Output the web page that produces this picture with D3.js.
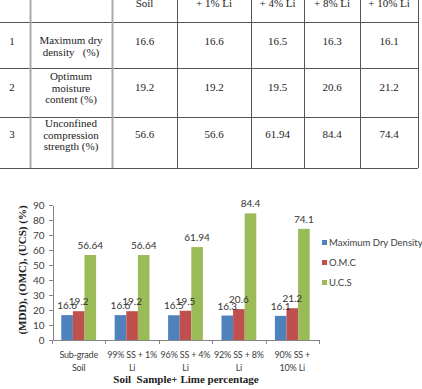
<!DOCTYPE html>
<html>
<head>
<meta charset="utf-8">
<script src="https://cdn.jsdelivr.net/npm/d3@7"></script>
<style>
  body { margin: 0; background: #fff; }
  svg { display: block; }
  .axis path, .axis line { stroke: #868686; shape-rendering: crispEdges; }
  .axis text { font-family: Lato, sans-serif; font-size: 9px; letter-spacing: -0.2px; fill: #404040; }
</style>
</head>
<body>
<div id="chart"></div>
<script>
// table data
var tableHeader = ["Soil", "+ 1% Li", "+ 4% Li", "+ 8% Li", "+ 10% Li"];
var rowNumbers = ["1", "2", "3"];
var rowLabels = [
  ["Maximum dry", "density\u00a0\u00a0\u00a0(%)"],
  ["Optimum", "moisture", "content (%)"],
  ["Unconfined", "compression", "strength (%)"]
];
var tableValues = [
  ["16.6", "16.6", "16.5", "16.3", "16.1"],
  ["19.2", "19.2", "19.5", "20.6", "21.2"],
  ["56.6", "56.6", "61.94", "84.4", "74.4"]
];

// chart data
var categories = [
  ["Sub-grade", "Soil"],
  ["99% SS + 1%", "Li"],
  ["96% SS + 4%", "Li"],
  ["92% SS + 8%", "Li"],
  ["90% SS +", "10% Li"]
];
var seriesNames = ["Maximum Dry Density", "O.M.C", "U.C.S"];
var mdd = [16.6, 16.6, 16.5, 16.3, 16.1];
var omc = [19.2, 19.2, 19.5, 20.6, 21.2];
var ucs = [56.64, 56.64, 61.94, 84.4, 74.1];
var yTicks = [0, 10, 20, 30, 40, 50, 60, 70, 80, 90];
var colors = ["#4F81BD", "#C0504D", "#9BBB59"];

var svgWidth = 422, svgHeight = 389;
var svg = d3.select("#chart").append("svg")
  .attr("width", svgWidth)
  .attr("height", svgHeight);

// ---------------- table ----------------
var colEdges = [30, 112, 177, 251, 304, 360, 418];
var rowEdges = [22, 68, 117, 168];
var serif = "Times New Roman, Liberation Serif, serif";

var table = svg.append("g")
  .attr("font-family", serif)
  .attr("font-size", 11)
  .attr("fill", "#222");

rowEdges.forEach(function(y) {
  table.append("line")
    .attr("x1", 0).attr("x2", 418)
    .attr("y1", y + 0.5).attr("y2", y + 0.5)
    .attr("stroke", "#555");
});
colEdges.forEach(function(x, i) {
  table.append("line")
    .attr("x1", x + 0.5).attr("x2", x + 0.5)
    .attr("y1", 0).attr("y2", 168)
    .attr("stroke", i < 2 ? "#aaa" : "#555")
    .attr("stroke-width", i < 2 ? 2 : 1);
});

// header (cut off at the top, as in the original)
tableHeader.forEach(function(h, i) {
  table.append("text")
    .attr("x", (colEdges[i + 1] + colEdges[i + 2]) / 2)
    .attr("y", 7)
    .attr("text-anchor", "middle")
    .text(h);
});

var valueBase = [45, 91, 138];
var labelBase = [[44, 56], [80, 92, 103], [127, 139, 150]];

rowNumbers.forEach(function(n, r) {
  table.append("text")
    .attr("x", 12).attr("y", valueBase[r])
    .attr("text-anchor", "middle")
    .text(n);

  rowLabels[r].forEach(function(line, k) {
    table.append("text")
      .attr("x", 71).attr("y", labelBase[r][k])
      .attr("text-anchor", "middle")
      .text(line);
  });

  tableValues[r].forEach(function(v, i) {
    table.append("text")
      .attr("x", (colEdges[i + 1] + colEdges[i + 2]) / 2)
      .attr("y", valueBase[r])
      .attr("text-anchor", "middle")
      .text(v);
  });
});

// ---------------- bar chart ----------------
var chart = { left: 52, right: 319, top: 205, bottom: 340 };

var x0 = d3.scaleBand()
  .domain(d3.range(categories.length))
  .range([chart.left, chart.right])
  .paddingInner(0);

var x1 = d3.scaleBand()
  .domain(d3.range(seriesNames.length))
  .range([0, x0.bandwidth()])
  .paddingInner(0)
  .paddingOuter(0.8);

var y = d3.scaleLinear()
  .domain([0, 90])
  .range([chart.bottom, chart.top]);

var series = [mdd, omc, ucs];

// y axis
svg.append("g")
  .attr("class", "axis")
  .attr("transform", "translate(" + (chart.left + 0.5) + ",0)")
  .call(d3.axisLeft(y).tickValues(yTicks).tickSize(4).tickSizeOuter(0).tickPadding(4))
  .selectAll("text").style("font-size", "10px").style("letter-spacing", "0");

// x axis line and tick marks at category boundaries
var xAxis = svg.append("g").attr("class", "axis");
xAxis.append("line")
  .attr("x1", chart.left).attr("x2", chart.right)
  .attr("y1", chart.bottom + 0.5).attr("y2", chart.bottom + 0.5);
d3.range(categories.length + 1).forEach(function(i) {
  var xb = i < categories.length ? x0(i) : x0(i - 1) + x0.bandwidth();
  xAxis.append("line")
    .attr("x1", Math.round(xb) + 0.5).attr("x2", Math.round(xb) + 0.5)
    .attr("y1", chart.bottom).attr("y2", chart.bottom + 4);
});

// category labels
categories.forEach(function(c, i) {
  var t = xAxis.append("text")
    .attr("x", x0(i) + x0.bandwidth() / 2)
    .attr("y", 358)
    .attr("text-anchor", "middle");
  c.forEach(function(line, k) {
    t.append("tspan")
      .attr("x", x0(i) + x0.bandwidth() / 2)
      .attr("dy", k === 0 ? 0 : 13)
      .text(line);
  });
});

// bars
series.forEach(function(vals, s) {
  svg.append("g").selectAll("rect")
    .data(vals)
    .enter()
    .append("rect")
    .attr("x", function(d, i) { return x0(i) + x1(s); })
    .attr("y", function(d) { return y(d); })
    .attr("width", x1.bandwidth())
    .attr("height", function(d) { return chart.bottom - y(d); })
    .attr("fill", colors[s]);
});

// value labels
series.forEach(function(vals, s) {
  svg.append("g").selectAll("text")
    .data(vals)
    .enter()
    .append("text")
    .attr("x", function(d, i) { return x0(i) + x1(s) + x1.bandwidth() / 2; })
    .attr("y", function(d) { return y(d) - 6; })
    .attr("text-anchor", "middle")
    .style("font", "10px Lato, sans-serif")
    .attr("fill", "#333")
    .text(function(d) { return d; });
});

// legend
var legend = svg.append("g");
seriesNames.forEach(function(name, s) {
  var ly = 243 + s * 20;
  legend.append("rect")
    .attr("x", 322).attr("y", ly - 3)
    .attr("width", 5).attr("height", 5)
    .attr("fill", colors[s]);
  legend.append("text")
    .attr("x", 329).attr("y", ly + 3)
    .style("font", "9.5px Lato, sans-serif")
    .attr("fill", "#404040")
    .text(name);
});

// axis titles
svg.append("text")
  .attr("transform", "translate(26,270) rotate(-90)")
  .attr("text-anchor", "middle")
  .attr("font-family", serif)
  .attr("font-weight", "bold")
  .attr("font-size", 11)
  .attr("fill", "#222")
  .text("(MDD), (OMC), (UCS) (%)");

svg.append("text")
  .attr("x", 186).attr("y", 383)
  .attr("text-anchor", "middle")
  .attr("font-family", serif)
  .attr("font-weight", "bold")
  .attr("font-size", 11)
  .attr("fill", "#222")
  .attr("xml:space", "preserve")
  .text("Soil  Sample+ Lime percentage");
</script>
</body>
</html>
